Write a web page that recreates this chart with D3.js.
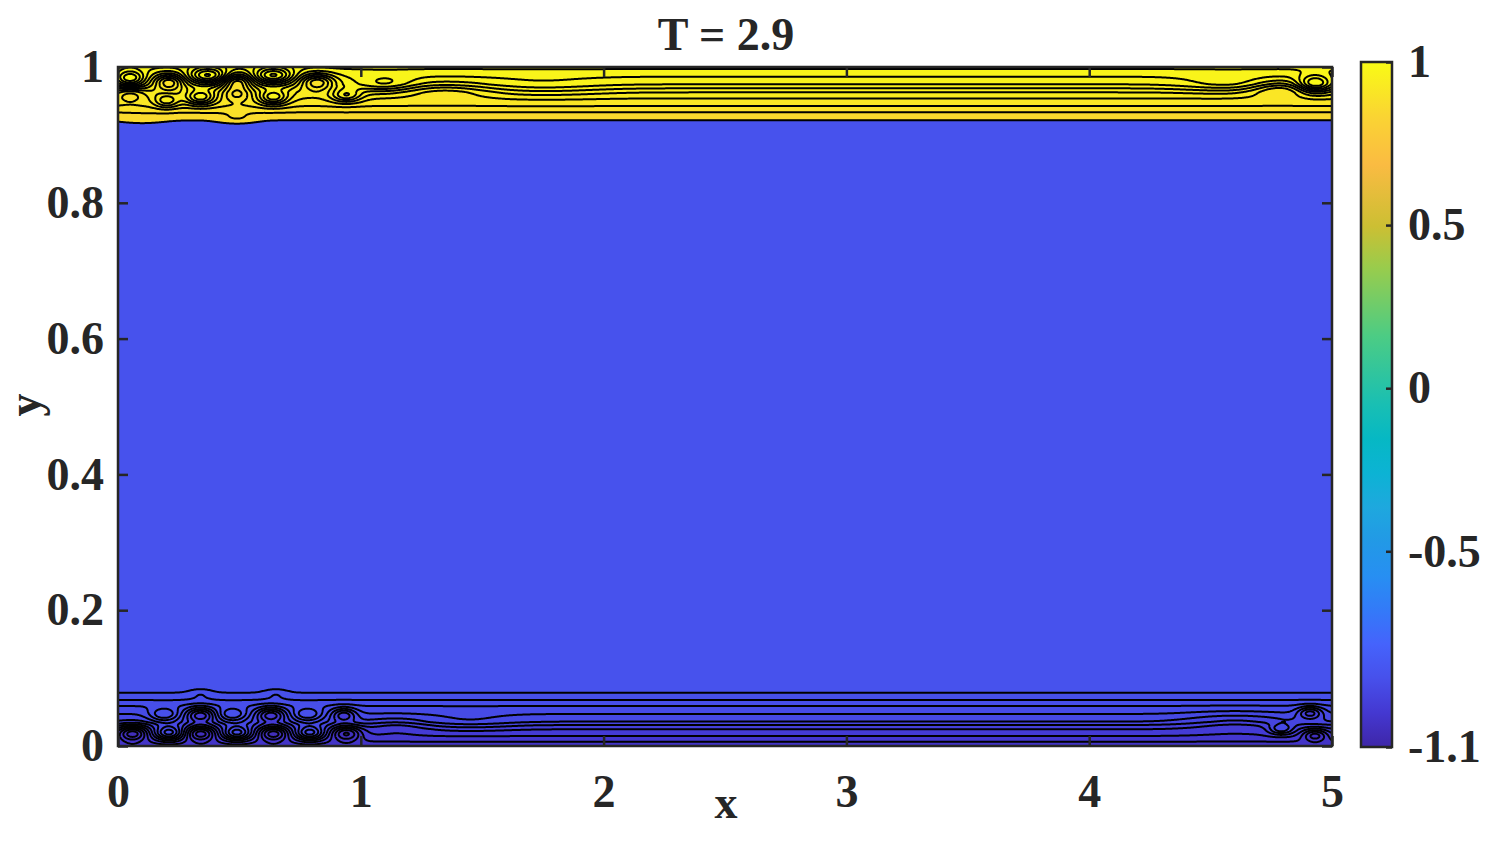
<!DOCTYPE html>
<html>
<head>
<meta charset="utf-8">
<title>T = 2.9</title>
<style>
  body { margin: 0; background: #fff; }
  text { font-family: "Liberation Serif", "Times New Roman", serif; font-weight: bold; fill: #262626; }
</style>
</head>
<body>
<div id="chart"></div>
<script src="https://d3js.org/d3.v7.min.js"></script>
<script>
var title = 'T = 2.9';
var xTicks = [0, 1, 2, 3, 4, 5];
var yTicks = [0, 0.2, 0.4, 0.6, 0.8, 1];
var cbTicks = [-1.1, -0.5, 0, 0.5, 1];

// phase value of the bulk (blue) region
var bulkValue = -0.88;

// top layer: y of each contour line (interface first, wall last) and the value above it
var topLines  = [0.9215, 0.9333, 0.9425, 0.9538, 0.9627, 0.9686, 0.9745, 0.9857, 0.997];
var topValues = [0.86, 0.89, 0.91, 0.93, 0.94, 0.95, 0.96, 0.97, 0.98, 0.985, 0.99, 0.995];

// bottom layer: same, interface first, wall last
var bottomLines  = [0.0785, 0.0677, 0.0589, 0.0471, 0.0358, 0.0309, 0.0246, 0.0147, 0.0063];
var bottomValues = [-0.89, -0.90, -0.91, -0.92, -0.94, -0.96, -0.98, -1.0, -1.02, -1.03, -1.04, -1.05];

// vortices in the top layer: centre, strength (in contour levels), half width, half height
var topVx = [0.05, 0.21, 0.37, 0.49, 0.64, 0.82, 0.05, 0.20, 0.34, 0.49, 0.64, 0.94, 0.10, 0.49, 1.10, 1.35, 1.75, 4.93, 4.78, 4.58];
var topVy = [0.983, 0.978, 0.987, 0.978, 0.987, 0.978, 0.960, 0.950, 0.955, 0.960, 0.955, 0.958, 0.922, 0.923, 0.975, 0.965, 0.970, 0.975, 0.968, 0.975];
var topVa = [5, -5, 6, -5, 6, -5, -2, 3, 4.5, -2.5, 4.5, 3.5, 0.5, 0.8, 2, -1.5, 0.8, 5, -2.5, 1.2];
var topVw = [0.06, 0.06, 0.08, 0.06, 0.08, 0.07, 0.06, 0.05, 0.06, 0.06, 0.06, 0.06, 0.10, 0.08, 0.12, 0.18, 0.25, 0.07, 0.12, 0.20];
var topVh = [0.012, 0.012, 0.012, 0.012, 0.012, 0.012, 0.010, 0.010, 0.011, 0.010, 0.011, 0.010, 0.008, 0.008, 0.012, 0.012, 0.015, 0.013, 0.012, 0.012];

// vortices in the bottom layer
var botVx = [0.19, 0.34, 0.47, 0.63, 0.78, 0.93, 0.06, 0.21, 0.34, 0.49, 0.64, 0.79, 0.94, 0.34, 0.65, 1.15, 1.45, 4.91, 4.79, 4.93, 4.6];
var botVy = [0.046, 0.046, 0.046, 0.046, 0.046, 0.046, 0.019, 0.019, 0.019, 0.019, 0.019, 0.019, 0.019, 0.078, 0.078, 0.030, 0.035, 0.049, 0.025, 0.016, 0.035];
var botVa = [-3, 4.5, -3, 4.5, -3, 3.5, 5, -5, 5, -5, 5, -5, 4.5, 0.8, 0.8, 1.0, -0.8, 3.5, -3, 3.5, 1.2];
var botVw = [0.06, 0.06, 0.06, 0.06, 0.06, 0.05, 0.06, 0.06, 0.06, 0.06, 0.06, 0.06, 0.06, 0.05, 0.05, 0.12, 0.18, 0.05, 0.05, 0.05, 0.20];
var botVh = [0.010, 0.011, 0.010, 0.011, 0.010, 0.010, 0.011, 0.011, 0.011, 0.011, 0.011, 0.011, 0.011, 0.008, 0.008, 0.012, 0.012, 0.009, 0.008, 0.009, 0.015];

// parula-like colormap
var cmapValues = [-1.1, -0.995, -0.89, -0.785, -0.68, -0.575, -0.47, -0.365, -0.26, -0.155, -0.05, 0.16, 0.37, 0.496, 0.685, 0.832, 1];
var cmapColors = ['#3e26a8', '#4438d1', '#4750eb', '#4563fc', '#337af8', '#278ff2', '#2299e6', '#1ea8de', '#0cb3d4', '#06b8c4', '#19bfb3', '#4ccc84', '#99cc4c', '#ccbf33', '#fabb42', '#fad433', '#f9fb15'];

var W = 1495, H = 841;

var svg = d3.select('#chart').append('svg')
    .attr('width', W)
    .attr('height', H);

var xScale = d3.scaleLinear().domain([0, 5]).range([118, 1332]);
var yScale = d3.scaleLinear().domain([0, 1]).range([746, 67]);
var color = d3.scaleLinear().domain(cmapValues).range(cmapColors).clamp(true);

svg.append('clipPath').attr('id', 'plotclip')
  .append('rect')
    .attr('x', xScale(0)).attr('y', yScale(1))
    .attr('width', xScale(5) - xScale(0)).attr('height', yScale(0) - yScale(1));

var plot = svg.append('g').attr('clip-path', 'url(#plotclip)');

plot.append('rect')
    .attr('x', xScale(0)).attr('y', yScale(1))
    .attr('width', xScale(5) - xScale(0)).attr('height', yScale(0) - yScale(1))
    .attr('fill', color(bulkValue));

// build the level field of one wall layer and contour it
function layer(lines, vx, vy, va, vw, vh, y0, y1) {
    var dx = 0.004, dy = 0.001, xa = -0.03;
    var nx = Math.round(5.06 / dx), ny = Math.round((y1 - y0) / dy);
    var level = d3.scaleLinear().domain(lines).range(d3.range(1, lines.length + 1));
    var grid = new Array(nx * ny);
    for (var j = 0; j < ny; j++) {
        var y = y1 - (j + 0.5) * dy;
        var base = level(y);
        for (var i = 0; i < nx; i++) {
            var x = xa + (i + 0.5) * dx;
            var v = base;
            for (var k = 0; k < vx.length; k++) {
                var ex = (x - vx[k]) / vw[k], ey = (y - vy[k]) / vh[k];
                var q = ex * ex + ey * ey;
                if (q < 20) v += va[k] * Math.exp(-q);
            }
            grid[j * nx + i] = v;
        }
    }
    var contours = d3.contours().size([nx, ny]).thresholds(d3.range(1, 15))(grid);
    var proj = d3.geoTransform({
        point: function (px, py) {
            this.stream.point(xScale(xa + px * dx), yScale(y1 - py * dy));
        }
    });
    return {contours: contours, path: d3.geoPath(proj)};
}

var topLayer = layer(topLines, topVx, topVy, topVa, topVw, topVh, 0.895, 1.006);
var botLayer = layer(bottomLines, botVx, botVy, botVa, botVw, botVh, -0.006, 0.105);

function drawLayer(L, values) {
    plot.append('g').selectAll('path')
        .data(L.contours)
        .join('path')
        .attr('d', L.path)
        .attr('fill', function (d, i) { return color(values[Math.min(i, values.length - 1)]); })
        .attr('stroke', 'none');
}
drawLayer(topLayer, topValues);
drawLayer(botLayer, bottomValues);

function strokeLayer(L) {
    plot.append('g').selectAll('path')
        .data(L.contours)
        .join('path')
        .attr('d', L.path)
        .attr('fill', 'none')
        .attr('stroke', '#000')
        .attr('stroke-width', 2)
        .attr('stroke-linejoin', 'round');
}
strokeLayer(topLayer);
strokeLayer(botLayer);

// axes, ticks pointing inward on all four sides
var axes = svg.append('g').attr('class', 'axes');

axes.append('g')
    .attr('transform', 'translate(0,' + yScale(0) + ')')
    .call(d3.axisBottom(xScale).tickValues(xTicks).tickSize(-10).tickSizeOuter(0).tickPadding(28).tickFormat(d3.format('d')));
axes.append('g')
    .attr('transform', 'translate(0,' + yScale(1) + ')')
    .call(d3.axisTop(xScale).tickValues(xTicks).tickSize(-10).tickSizeOuter(0).tickFormat(''));
axes.append('g')
    .attr('transform', 'translate(' + xScale(0) + ',0)')
    .call(d3.axisLeft(yScale).tickValues(yTicks).tickSize(-10).tickSizeOuter(0).tickPadding(14)
        .tickFormat(function (d) { return d === 0 || d === 1 ? d : d3.format('.1f')(d); }));
axes.append('g')
    .attr('transform', 'translate(' + xScale(5) + ',0)')
    .call(d3.axisRight(yScale).tickValues(yTicks).tickSize(-10).tickSizeOuter(0).tickFormat(''));

axes.selectAll('.domain').remove();
axes.selectAll('.tick line').attr('stroke', '#262626').attr('stroke-width', 2.5);
axes.selectAll('.tick text').attr('font-size', 46).attr('fill', '#262626')
    .style('font-family', '"Liberation Serif", serif').style('font-weight', 'bold');

svg.append('rect')
    .attr('x', xScale(0)).attr('y', yScale(1))
    .attr('width', xScale(5) - xScale(0)).attr('height', yScale(0) - yScale(1))
    .attr('fill', 'none').attr('stroke', '#262626').attr('stroke-width', 2.5);

// labels
svg.append('text')
    .attr('x', 726).attr('y', 50)
    .attr('text-anchor', 'middle')
    .attr('font-size', 46)
    .text(title);
svg.append('text')
    .attr('x', 726).attr('y', 818)
    .attr('text-anchor', 'middle')
    .attr('font-size', 46)
    .text('x');
svg.append('text')
    .attr('transform', 'translate(40,405) rotate(-90)')
    .attr('text-anchor', 'middle')
    .attr('font-size', 46)
    .text('y');

// colorbar
var cbScale = d3.scaleLinear().domain([-1.1, 1]).range([747, 62]);
var cbX = 1361, cbW = 31;

var grad = svg.append('defs').append('linearGradient')
    .attr('id', 'cbgrad')
    .attr('x1', 0).attr('y1', 1).attr('x2', 0).attr('y2', 0);
grad.selectAll('stop')
    .data(cmapValues)
    .join('stop')
    .attr('offset', function (d) { return (d + 1.1) / 2.1; })
    .attr('stop-color', function (d, i) { return cmapColors[i]; });

svg.append('rect')
    .attr('x', cbX).attr('y', cbScale(1))
    .attr('width', cbW).attr('height', cbScale(-1.1) - cbScale(1))
    .attr('fill', 'url(#cbgrad)');

var cbAxis = svg.append('g')
    .attr('transform', 'translate(' + (cbX + cbW) + ',0)')
    .call(d3.axisRight(cbScale).tickValues(cbTicks).tickSize(-6).tickSizeOuter(0).tickPadding(16)
        .tickFormat(function (d) { return d; }));
cbAxis.select('.domain').remove();
cbAxis.selectAll('.tick line').attr('stroke', '#262626').attr('stroke-width', 2.5);
cbAxis.selectAll('.tick text').attr('font-size', 46).attr('fill', '#262626')
    .style('font-family', '"Liberation Serif", serif').style('font-weight', 'bold')
    .attr('text-anchor', 'start');

svg.append('rect')
    .attr('x', cbX).attr('y', cbScale(1))
    .attr('width', cbW).attr('height', cbScale(-1.1) - cbScale(1))
    .attr('fill', 'none').attr('stroke', '#262626').attr('stroke-width', 2.5);
</script>
</body>
</html>
